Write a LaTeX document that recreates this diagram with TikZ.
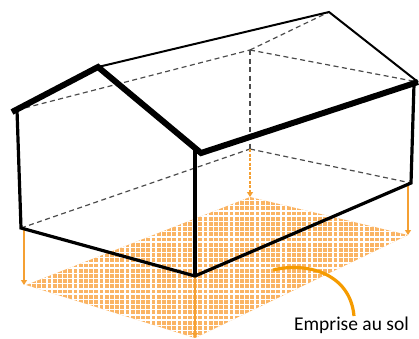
\documentclass[tikz,border=0pt]{standalone}
\usepackage{fontspec}
\setmainfont{Carlito}
\usepackage{tikz}
\usetikzlibrary{arrows.meta,calc}
\definecolor{footorange}{RGB}{250,180,100}
\definecolor{arrorange}{RGB}{245,160,50}
\definecolor{curveorange}{RGB}{245,155,0}
\tikzset{
  roofline/.style={line width=6pt,color=black,line join=miter},
  wallline/.style={line width=3.2pt,color=black,line join=miter},
  backline/.style={line width=2pt,color=black},
  hiddenline/.style={line width=1.2pt,dashed,dash pattern=on 5pt off 3.5pt,color=black!70},
  droparr/.style={-{Triangle[length=5pt,width=6pt]},line width=1.4pt,color=arrorange},
  dropdash/.style={droparr,dash pattern=on 3pt off 1.5pt},
  gridline/.style={line width=1.4pt,color=white}
}
\begin{document}
\begin{tikzpicture}[x=1pt,y=-1pt]
  \useasboundingbox (0,0) rectangle (419,338);

  % house corners
  \coordinate (eaveL) at (12,112);
  \coordinate (wallTL) at (17,110);
  \coordinate (wallBL) at (21,228);
  \coordinate (ridgeF) at (98,67);
  \coordinate (eaveF) at (201,153);
  \coordinate (wallTF) at (195,149);
  \coordinate (wallBF) at (195,276);
  \coordinate (eaveR) at (418,82);
  \coordinate (wallTR) at (414,84);
  \coordinate (wallBR) at (411,183);
  \coordinate (ridgeB) at (329,12);
  \coordinate (backT) at (250,50);
  \coordinate (backB) at (250,149);

  % footprint on the ground
  \coordinate (footL) at (26,285);
  \coordinate (footB) at (250,197);
  \coordinate (footR) at (408,235);
  \coordinate (footF) at (195,338);
  \begin{scope}
    \clip (footL) -- (footB) -- (footR) -- (footF) -- cycle;
    \fill[footorange] (0,190) rectangle (419,338);
    \foreach \x in {0,5.2,...,418} \draw[gridline] (\x,190) -- (\x,338);
    \foreach \y in {190,195.2,...,338} \draw[gridline] (0,\y) -- (419,\y);
  \end{scope}

  % hidden edges
  \draw[hiddenline] (wallTL) -- (backT);
  \draw[hiddenline] (backT) -- (ridgeB);
  \draw[hiddenline] (backT) -- (eaveR);
  \draw[hiddenline] (backT) -- (backB);
  \draw[hiddenline] (wallBL) -- (backB);
  \draw[hiddenline] (backB) -- (wallBR);

  % drop arrows
  \draw[droparr] (24,229) -- (24,285);
  \draw[dropdash] (backB) -- (footB);
  \draw[droparr] (408,184) -- (footR);
  \draw[droparr] (wallBF) -- (footF);

  % walls and roof
  \draw[backline] (ridgeF) -- (ridgeB) -- (eaveR);
  \draw[wallline] (wallTL) -- (wallBL) -- (wallBF) -- (wallBR) -- (wallTR);
  \draw[wallline] (wallTF) -- (wallBF);
  \draw[roofline] (eaveL) -- (ridgeF) -- (eaveF) -- (eaveR);

  % label
  \node[font=\fontsize{19.5}{22}\selectfont,text=black,anchor=base] (lbl) at (351.5,330) {Emprise au sol};
  \draw[line width=3.2pt,color=curveorange] (273,270) .. controls (305,262) and (350,272) .. (354,316);
\end{tikzpicture}
\end{document}
